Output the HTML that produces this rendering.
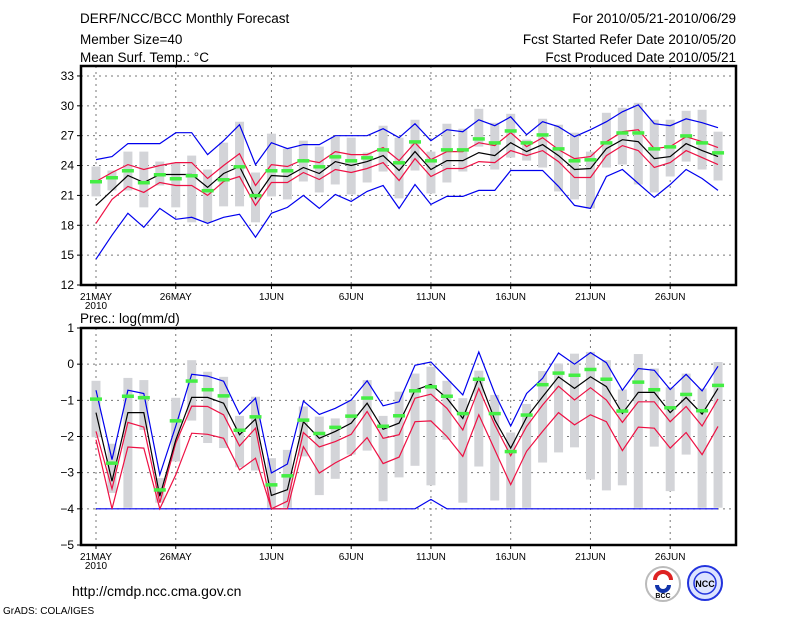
<!DOCTYPE html>
<html><head><meta charset="utf-8"><style>
body{margin:0;background:#fff;width:800px;height:618px;overflow:hidden}
svg{display:block}
text{font-family:"Liberation Sans",sans-serif;fill:#000}
</style></head><body>
<svg id="chart" width="800" height="618" viewBox="0 0 800 618">
<g font-size="13.5">
<text x="80" y="23">DERF/NCC/BCC Monthly Forecast</text>
<text x="80" y="44">Member Size=40</text>
<text x="80" y="62">Mean Surf. Temp.: °C</text>
<text x="736" y="23" text-anchor="end">For 2010/05/21-2010/06/29</text>
<text x="736" y="44" text-anchor="end">Fcst Started Refer Date 2010/05/20</text>
<text x="736" y="62" text-anchor="end">Fcst Produced Date 2010/05/21</text>
<text x="80" y="323">Prec.: log(mm/d)</text>
<text x="72" y="596" font-size="14">http://cmdp.ncc.cma.gov.cn</text>
<text x="3" y="614" font-size="10">GrADS: COLA/IGES</text>
</g>
<g>
<circle cx="663" cy="584" r="17" fill="#fff" stroke="#bbb" stroke-width="2"/>
<path d="M655 580 a8 8 0 1 1 16 0" fill="none" stroke="#d22" stroke-width="4"/>
<path d="M657 585 a6 6 0 0 0 12 0" fill="none" stroke="#13a" stroke-width="4"/>
<text x="663" y="598" font-size="7" text-anchor="middle" font-weight="bold" fill="#333">BCC</text>
</g>
<g>
<circle cx="705" cy="583" r="17" fill="#dde4ff" stroke="#2233dd" stroke-width="2"/>
<circle cx="705" cy="583" r="11" fill="none" stroke="#2233dd" stroke-width="1.5"/>
<text x="705" y="587" font-size="9" text-anchor="middle" font-weight="bold" fill="#2233dd">NCC</text>
</g>
<g id="top"></g>
<g id="bot"></g>
</svg>
<script>
const days=['21MAY','26MAY','1JUN','6JUN','11JUN','16JUN','21JUN','26JUN'];
const dayIdx=[0,5,11,16,21,26,31,36];
const tTicks=[12,15,18,21,24,27,30,33];
const pTicks=[-5,-4,-3,-2,-1,0,1];
// Temperature series
const tBlueHi=[24.6,24.9,26.2,26.2,26.2,27.3,27.3,25.1,26.5,28.1,24.1,26.3,25.7,26.1,26.1,27.0,27.0,27.0,27.7,26.8,28.2,26.5,27.6,27.4,28.6,28.0,28.9,27.1,28.4,27.9,26.9,27.6,28.4,29.4,30.1,28.2,28.0,28.7,28.3,27.8];
const tRedHi=[22.4,23.3,24.1,23.6,24.0,24.3,24.3,22.7,24.0,25.2,22.0,24.1,23.9,24.6,24.3,25.4,25.1,25.1,25.8,24.5,26.3,24.6,25.4,25.4,26.3,26.0,27.3,25.9,26.8,25.6,24.7,24.9,26.4,27.4,27.6,25.7,25.9,26.9,26.4,25.8];
const tMean=[20.0,21.5,23.0,22.3,23.1,23.1,23.1,21.8,23.2,23.9,20.7,23.0,22.9,23.8,23.2,24.4,24.0,24.4,25.0,23.5,25.4,23.6,24.5,24.5,25.3,25.0,26.3,25.4,26.1,25.0,23.6,23.7,25.7,26.6,26.4,24.7,24.9,26.2,25.5,24.9];
const tRedLo=[18.2,20.6,21.9,21.3,22.3,22.0,22.0,21.0,22.4,22.9,20.0,22.3,22.3,23.3,22.6,23.6,23.3,23.7,24.3,22.5,24.7,22.9,23.7,23.7,24.4,24.3,25.5,25.0,25.5,24.4,22.8,22.8,25.0,26.0,25.5,23.8,24.3,25.5,24.8,24.1];
const tBlueLo=[14.6,17.0,19.2,17.8,19.7,18.6,18.8,18.2,18.8,19.1,16.8,19.2,19.8,21.0,19.7,21.1,20.4,21.4,22.0,19.7,22.1,20.1,20.9,20.9,21.5,21.5,23.5,23.5,23.5,21.9,20.0,19.7,22.9,23.6,22.2,20.8,22.1,23.6,22.7,21.5];
const tGreen=[22.4,22.8,23.5,22.3,23.1,22.7,23.0,21.5,22.6,23.9,21.0,23.5,23.5,24.5,23.9,24.9,24.5,24.8,25.6,24.3,26.4,24.5,25.6,25.6,26.7,26.3,27.5,26.3,27.1,25.7,24.5,24.6,26.3,27.3,27.3,25.7,25.9,27.0,26.3,25.3];
const tBarHi=[23.9,23.5,25.4,25.4,24.4,24.3,25.0,23.6,26.3,28.4,23.3,27.2,25.7,26.5,25.9,26.9,26.8,25.3,28.0,26.8,28.6,25.4,28.2,27.7,29.7,28.3,29.2,26.6,28.7,28.1,27.3,25.4,29.3,29.8,30.3,28.6,28.6,29.5,29.6,27.4];
const tBarLo=[20.9,21.5,21.5,19.8,22.0,19.8,18.3,18.3,19.9,19.9,18.3,20.9,20.6,22.4,21.3,22.1,21.1,22.3,23.4,20.7,23.5,21.2,22.3,23.4,25.9,23.6,24.8,24.5,23.8,21.4,20.6,19.7,23.8,24.1,22.1,21.3,22.9,24.4,23.6,22.5];
// Precipitation series
const pBlueHi=[-0.72,-2.64,-0.72,-0.81,-3.06,-1.71,-0.28,-0.33,-0.47,-1.38,-0.94,-3.01,-2.76,-1.02,-1.39,-1.22,-0.99,-0.46,-1.15,-1.04,-0.03,0.06,-0.39,-0.85,0.34,-0.81,-1.71,-0.81,-0.39,0.31,0.0,0.32,0.04,-0.72,-0.12,-0.17,-0.70,-0.28,-0.74,-0.06];
const pMean=[-1.34,-3.24,-1.34,-1.34,-3.65,-2.09,-0.92,-0.92,-1.08,-1.95,-1.52,-3.63,-3.47,-1.59,-2.05,-1.86,-1.63,-1.08,-1.80,-1.63,-0.72,-0.56,-0.94,-1.50,-0.38,-1.54,-2.32,-1.47,-0.90,-0.35,-0.67,-0.35,-0.62,-1.36,-0.78,-0.78,-1.34,-0.92,-1.38,-0.67];
const pRedHi=[-1.86,-3.45,-1.61,-1.74,-3.83,-2.18,-1.16,-1.17,-1.40,-2.26,-1.77,-4.0,-3.79,-1.89,-2.29,-2.14,-1.94,-1.31,-2.05,-1.95,-0.94,-0.83,-1.22,-1.82,-0.67,-1.68,-2.53,-1.72,-1.13,-0.61,-0.99,-0.65,-0.99,-1.61,-1.04,-1.04,-1.59,-1.17,-1.71,-0.96];
const pRedLo=[-2.09,-4.0,-2.29,-2.32,-4.0,-3.06,-1.91,-1.94,-2.05,-2.92,-2.60,-4.0,-4.0,-2.28,-3.01,-2.73,-2.50,-2.03,-2.75,-2.57,-1.59,-1.57,-2.0,-2.55,-1.40,-2.37,-3.33,-2.41,-1.86,-1.34,-1.68,-1.40,-1.59,-2.39,-1.74,-1.77,-2.32,-1.89,-2.50,-1.72];
const pBlueLo=[-4,-4,-4,-4,-4,-4,-4,-4,-4,-4,-4,-4,-4,-4,-4,-4,-4,-4,-4,-4,-4,-3.74,-4,-4,-4,-4,-4,-4,-4,-4,-4,-4,-4,-4,-4,-4,-4,-4,-4,-4];
const pGreen=[-0.96,-2.73,-0.88,-0.92,-3.47,-1.56,-0.46,-0.70,-0.87,-1.82,-1.45,-3.33,-3.08,-1.54,-1.91,-1.74,-1.43,-0.93,-1.71,-1.42,-0.73,-0.62,-0.88,-1.36,-0.41,-1.36,-2.41,-1.40,-0.56,-0.24,-0.30,-0.14,-0.41,-1.29,-0.49,-0.70,-1.20,-0.83,-1.28,-0.58];
const pBarHi=[-0.46,-2.20,-0.38,-0.44,-3.15,-0.93,0.11,-0.21,-0.35,-1.43,-0.90,-2.60,-2.37,-1.17,-1.45,-1.50,-0.99,-0.44,-1.43,-0.76,-0.26,-0.07,-0.46,-0.94,-0.18,-0.85,-1.89,-1.10,-0.19,0.02,0.29,0.34,0.11,-0.70,0.28,-0.12,-0.64,-0.26,-0.67,0.06];
const pBarLo=[-2.02,-3.56,-3.97,-1.82,-3.83,-2.69,-1.56,-2.18,-2.32,-2.85,-2.94,-3.97,-3.97,-2.55,-3.62,-3.17,-2.50,-2.39,-3.79,-3.13,-2.81,-3.35,-2.09,-3.83,-2.83,-3.77,-3.97,-3.97,-2.72,-2.44,-2.30,-3.19,-3.49,-3.35,-3.97,-2.28,-3.51,-2.50,-3.97,-3.97];

const NS='http://www.w3.org/2000/svg';
const X0=81,X1=736;
function xOf(d){return 96+d*15.95;}
function mk(tag,attrs,parent){const e=document.createElementNS(NS,tag);for(const k in attrs)e.setAttribute(k,attrs[k]);parent.appendChild(e);return e;}
function panel(g,top,bot,vmin,vmax,ticks,series,bHi,bLo,green,pname){
  const yOf=v=>bot-(v-vmin)/(vmax-vmin)*(bot-top);
  ticks.forEach(t=>{const y=yOf(t);
    const l=mk('line',{x1:X0,x2:X1,y1:y,y2:y,stroke:'#777','stroke-dasharray':'2,4','stroke-width':1},g);
    
    
    const tk=mk('line',{x1:X0-4,x2:X0,y1:y,y2:y,stroke:'#000'},g);
    
    
    const tx=mk('text',{x:X0-7,y:y+4,'text-anchor':'end','font-size':'12'},g);
    tx.textContent=String(t).replace('-','\u2212');
    
    
  });
  dayIdx.forEach((d,i)=>{const x=xOf(d);
    const l=mk('line',{x1:x,x2:x,y1:top,y2:bot,stroke:'#777','stroke-dasharray':'2,4'},g);
    
    
    const tk=mk('line',{x1:x,x2:x,y1:bot,y2:bot+4,stroke:'#000'},g);
    
    
    const tx=mk('text',{x:x,y:bot+15,'text-anchor':'middle','font-size':'10'},g);
    tx.textContent=days[i];
    
    
  });
  const yr=mk('text',{x:96,y:bot+24,'text-anchor':'middle','font-size':'10'},g);
  yr.textContent='2010';
  
  
  bHi.forEach((v,d)=>{const y1=yOf(v),y2=yOf(bLo[d]);
    const r=mk('rect',{x:xOf(d)-4.5,y:y1,width:9,height:y2-y1,fill:'#d3d4d8'},g);
    
    
  });
  series.forEach(s=>{
    const pts=s.data.map((v,d)=>xOf(d).toFixed(1)+','+yOf(v).toFixed(1)).join(' ');
    const p=mk('polyline',{points:pts,fill:'none',stroke:s.c,'stroke-width':1.2},g);
    
    
  });
  green.forEach((v,d)=>{
    const r=mk('rect',{x:xOf(d)-6,y:yOf(v)-1.5,width:12,height:3.5,fill:'#44ee44'},g);
    
    
  });
  const f=mk('rect',{x:X0,y:top,width:X1-X0,height:bot-top,fill:'none',stroke:'#000','stroke-width':2.5},g);
  
  
}
const tg=document.getElementById('top');


panel(tg,66,285,12,34,tTicks,[
 {n:'upper-bound',c:'#0000ee',data:tBlueHi},{n:'lower-bound',c:'#0000ee',data:tBlueLo},
 {n:'upper-quartile',c:'#ee1144',data:tRedHi},{n:'lower-quartile',c:'#ee1144',data:tRedLo},
 {n:'median',c:'#000',data:tMean}],tBarHi,tBarLo,tGreen,'temp');
const bg=document.getElementById('bot');


panel(bg,328,545,-5,1,pTicks,[
 {n:'upper-bound',c:'#0000ee',data:pBlueHi},{n:'lower-bound',c:'#0000ee',data:pBlueLo},
 {n:'upper-quartile',c:'#ee1144',data:pRedHi},{n:'lower-quartile',c:'#ee1144',data:pRedLo},
 {n:'median',c:'#000',data:pMean}],pBarHi,pBarLo,pGreen,'prec');
</script>
</body></html>
